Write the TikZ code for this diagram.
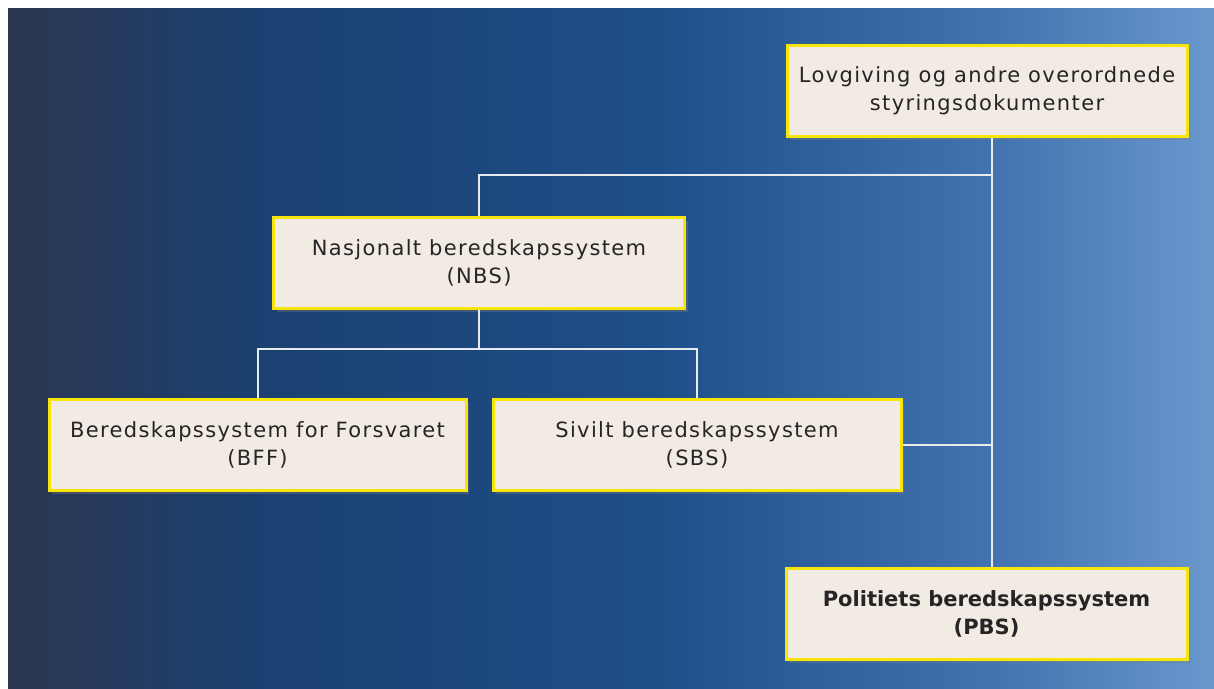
\documentclass[tikz,border=0pt]{standalone}
\usepackage{fontspec}
\setmainfont{DejaVu Sans}
\usetikzlibrary{shadows}
\definecolor{bgA}{RGB}{44,54,80}
\definecolor{bgB}{RGB}{27,64,112}
\definecolor{bgC}{RGB}{30,78,136}
\definecolor{bgD}{RGB}{68,116,176}
\definecolor{bgE}{RGB}{104,152,204}
\definecolor{boxyellow}{RGB}{246,228,10}
\definecolor{boxfill}{RGB}{242,235,228}
\definecolor{txt}{RGB}{38,36,36}
\definecolor{linecol}{RGB}{232,234,238}
\begin{document}
\begin{tikzpicture}[x=1pt,y=-1pt,
  box/.style={draw=boxyellow, line width=3pt, fill=boxfill, inner sep=0pt,
    minimum height=91pt, align=center, text=txt,
    font=\fontsize{21}{28}\selectfont\addfontfeature{LetterSpace=6.5},
    drop shadow={opacity=0.35, shadow xshift=3pt, shadow yshift=-4pt}},
  link/.style={draw=linecol, line width=2pt}]
\useasboundingbox (0,0) rectangle (1214,688);
\fill[white] (0,0) rectangle (1214,688);
% background gradient
\shade[left color=bgA, right color=bgB] (8,8) rectangle (250,688);
\shade[left color=bgB, right color=bgC] (250,8) rectangle (650,688);
\shade[left color=bgC, right color=bgD] (650,8) rectangle (1000,688);
\shade[left color=bgD, right color=bgE] (1000,8) rectangle (1214,688);
% connectors
\coordinate (t1) at (992,175);
\coordinate (t2) at (479,349);
% boxes
\node[box, minimum width=400pt] (lov) at (987,90.5) {Lovgiving og andre overordnede\\styringsdokumenter};
\node[box, minimum width=411pt] (nbs) at (479,262.5) {Nasjonalt beredskapssystem\\(NBS)};
\node[box, minimum width=417pt] (bff) at (257.5,444.5) {Beredskapssystem for Forsvaret\\(BFF)};
\node[box, minimum width=408pt] (sbs) at (697,444.5) {Sivilt beredskapssystem\\(SBS)};
\node[box, minimum width=401pt, font=\fontsize{21}{28}\selectfont\bfseries] (pbs) at (986.5,613.5) {Politiets beredskapssystem\\(PBS)};
\draw[link] (lov.south -| t1) -- (pbs.north -| t1);
\draw[link] (t1) -| (nbs.north);
\draw[link] (nbs.south) -- (t2);
\draw[link] (bff.north) |- (t2) -| (sbs.north);
\draw[link] (sbs.east) -- (sbs.east -| t1);
\end{tikzpicture}
\end{document}
